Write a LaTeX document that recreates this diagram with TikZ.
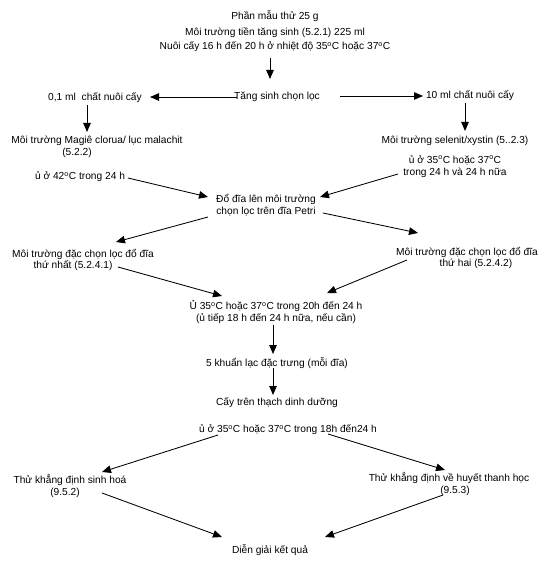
\documentclass[tikz,border=0pt]{standalone}
\usepackage{fontspec}
\setmainfont{Liberation Sans}
\usetikzlibrary{arrows.meta}
\newcommand{\dC}{\textsuperscript{o}C}
\tikzset{
  txt/.style={font=\fontsize{10.2}{11.5}\selectfont, inner sep=0pt, align=center, text=black},
  arr/.style={-{Triangle[length=9pt,width=7.5pt]}, line width=0.85pt, black},
}
\begin{document}
\begin{tikzpicture}[x=1pt,y=-1pt]
\useasboundingbox (0,0) rectangle (552,585);
\node[txt] (phan) at (275,16) {Phần mẫu thử 25 g};
\node[txt, font=\fontsize{10.2}{14}\selectfont] (moi) at (275,40) {Môi trường tiền tăng sinh (5.2.1) 225 ml\\Nuôi cấy 16 h đến 20 h ở nhiệt độ 35\dC{} hoặc 37\dC};
\node[txt] (tang) at (277,97) {Tăng sinh chọn lọc};
\node[txt] (c01) at (95,98) {0,1 ml\ \ chất nuôi cấy};
\node[txt] (c10) at (470,96) {10 ml chất nuôi cấy};
\node[txt] (mg) at (97,147) {Môi trường Magiê clorua/ lục malachit\\(5.2.2)\hspace*{40pt}};
\node[txt] (sel) at (455,141) {Môi trường selenit/xystin (5..2.3)};
\node[txt] (inc42) at (80,177) {ủ ở 42\dC{} trong 24 h};
\node[txt] (inc35) at (455,166.5) {ủ ở 35\dC{} hoặc 37\dC\\trong 24 h và 24 h nữa};
\node[txt] (dodia) at (266,205) {Đổ đĩa lên môi trường\\chọn lọc trên đĩa Petri};
\node[txt] (m1) at (83,260) {Môi trường đặc chọn lọc đổ đĩa\\thứ nhất (5.2.4.1)\hspace*{20pt}};
\node[txt] (m2) at (467,258) {Môi trường đặc chọn lọc đổ đĩa\\\hspace*{18pt}thứ hai (5.2.4.2)};
\node[txt] (u35) at (276,312) {Ủ 35\dC{} hoặc 37\dC{} trong 20h đến 24 h\\(ủ tiếp 18 h đến 24 h nữa, nếu cần)};
\node[txt] (k5) at (277,363) {5 khuẩn lạc đặc trưng (mỗi đĩa)};
\node[txt] (cay) at (277,403) {Cấy trên thạch dinh dưỡng};
\node[txt] (u18) at (288,430) {ủ ở 35\dC{} hoặc 37\dC{} trong 18h đến24 h};
\node[txt] (sh) at (70,486) {Thử khẳng định sinh hoá\\(9.5.2)\hspace*{10pt}};
\node[txt] (ht) at (449,484) {Thử khẳng định về huyết thanh học\\\hspace*{12pt}(9.5.3)};
\node[txt] (dg) at (270,550) {Diễn giải kết quả};

\draw[arr] ([shift={(-5,18)}]moi.center) -- ([shift={(-7,-18)}]tang.center);
\draw[arr] ([shift={(-40,0)}]tang.center) -- ([shift={(55,-1)}]c01.center);
\draw[arr] ([shift={(63,-1)}]tang.center) -- ([shift={(-47,0)}]c10.center);
\draw[arr] ([shift={(-8,7)}]c01.center) -- ([shift={(-10,-15)}]mg.center);
\draw[arr] ([shift={(-5,7)}]c10.center) -- ([shift={(10,-10)}]sel.center);
\draw[arr] ([shift={(48,1)}]inc42.center) -- ([shift={(-58,-8)}]dodia.center);
\draw[arr] ([shift={(-57,7.5)}]inc35.center) -- ([shift={(54,-8)}]dodia.center);
\draw[arr] ([shift={(-58,12)}]dodia.center) -- ([shift={(33,-18)}]m1.center);
\draw[arr] ([shift={(57,8)}]dodia.center) -- ([shift={(-49,-25)}]m2.center);
\draw[arr] ([shift={(35,7)}]m1.center) -- ([shift={(-54,-16)}]u35.center);
\draw[arr] ([shift={(-60,2)}]m2.center) -- ([shift={(51,-19)}]u35.center);
\draw[arr] ([shift={(-3,13)}]u35.center) -- ([shift={(-4,-9)}]k5.center);
\draw[arr] ([shift={(-4,5)}]k5.center) -- ([shift={(-4,-8)}]cay.center);
\draw[arr] ([shift={(-70,5)}]u18.center) -- ([shift={(32,-14)}]sh.center);
\draw[arr] ([shift={(40,4)}]u18.center) -- ([shift={(-4,-14)}]ht.center);
\draw[arr] ([shift={(32,7)}]sh.center) -- ([shift={(-48,-13)}]dg.center);
\draw[arr] ([shift={(-6,11)}]ht.center) -- ([shift={(55,-13)}]dg.center);
\end{tikzpicture}
\end{document}
